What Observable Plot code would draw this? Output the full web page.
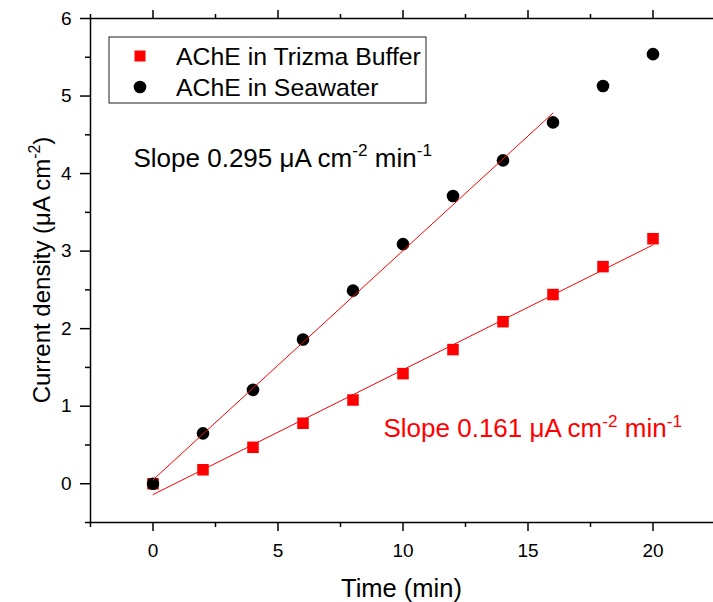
<!DOCTYPE html>
<html><head><meta charset="utf-8">
<style>body{margin:0;background:#fff;overflow:hidden}</style>
<script src="https://cdn.jsdelivr.net/npm/d3@7"></script>
<script src="https://cdn.jsdelivr.net/npm/@observablehq/plot@0.6"></script>
</head><body><div id="chart"></div>
<script>
// ---- data ----
const time = [0, 2, 4, 6, 8, 10, 12, 14, 16, 18, 20];
const seawater = [0.0, 0.65, 1.21, 1.86, 2.49, 3.09, 3.71, 4.17, 4.66, 5.13, 5.54];
const trizma = [0.0, 0.18, 0.47, 0.78, 1.08, 1.42, 1.73, 2.09, 2.44, 2.80, 3.16];
const seaFitTime = [0, 16];
const seaFitValue = [0.05, 4.78];
const trizmaFitTime = [0, 20];
const trizmaFitValue = [-0.14, 3.08];
const xMajor = [0, 5, 10, 15, 20];
const xMinor = [-2.5, 2.5, 7.5, 12.5, 17.5];
const yMajor = [0, 1, 2, 3, 4, 5, 6];
const yMinor = [-0.5, 0.5, 1.5, 2.5, 3.5, 4.5, 5.5];
const seriesNames = ["AChE in Trizma Buffer", "AChE in Seawater"];
const seaSlopeText = [["Slope 0.295 μA cm", false], ["-2", true], [" min", false], ["-1", true]];
const trizmaSlopeText = [["Slope 0.161 μA cm", false], ["-2", true], [" min", false], ["-1", true]];
const xTitle = "Time (min)";
const yTitle = [["Current density (μA cm", false], ["-2", true], [")", false]];

const FONT = "'Liberation Sans', Arial, Helvetica, sans-serif";
const xDomain = [-2.5, 22.42];
const yDomain = [-0.5, 6];

const trizmaRows = time.map((t, i) => ({t, v: trizma[i]}));
const seaRows = time.map((t, i) => ({t, v: seawater[i]}));
const seaFit = seaFitTime.map((t, i) => ({t, v: seaFitValue[i]}));
const trizmaFit = trizmaFitTime.map((t, i) => ({t, v: trizmaFitValue[i]}));

const blank = () => "";
const plain = (d) => String(d);
const plot = Plot.plot({
  width: 713, height: 602,
  marginLeft: 90, marginRight: 0, marginTop: 18, marginBottom: 80,
  style: {fontFamily: FONT, fontSize: "19px", color: "black", background: "white", overflow: "visible"},
  x: {domain: xDomain, axis: null},
  y: {domain: yDomain, axis: null},
  marks: [
    Plot.axisX(xMajor, {anchor: "bottom", tickSize: 9, tickPadding: 12, tickFormat: plain, strokeWidth: 1.5, fontSize: 19, label: null}),
    Plot.axisX(xMinor, {anchor: "bottom", tickSize: 5, tickFormat: blank, strokeWidth: 1.5, label: null}),
    Plot.axisX(xMajor, {anchor: "top", tickSize: 9, tickFormat: blank, strokeWidth: 1.5, label: null}),
    Plot.axisX(xMinor, {anchor: "top", tickSize: 5, tickFormat: blank, strokeWidth: 1.5, label: null}),
    Plot.axisY(yMajor, {anchor: "left", tickSize: 10, tickPadding: 9, tickFormat: plain, strokeWidth: 1.5, fontSize: 19, label: null}),
    Plot.axisY(yMinor, {anchor: "left", tickSize: 5, tickFormat: blank, strokeWidth: 1.5, label: null}),
    Plot.ruleX([xDomain[0]], {stroke: "black", strokeWidth: 1.5}),
    Plot.ruleY(yDomain, {stroke: "black", strokeWidth: 1.5}),
    Plot.dot(trizmaRows, {x: "t", y: "v", symbol: "square", fill: "#ff0000", r: 6.5}),
    Plot.dot(seaRows, {x: "t", y: "v", symbol: "circle", fill: "black", r: 6.3}),
    Plot.line(seaFit, {x: "t", y: "v", stroke: "#ff0000", strokeWidth: 1}),
    Plot.line(trizmaFit, {x: "t", y: "v", stroke: "#ff0000", strokeWidth: 1})
  ]
});
document.getElementById("chart").appendChild(plot);

const sx = plot.scale("x"), sy = plot.scale("y");
const svg = d3.select(plot);

function richText(parent, parts, fs, color, anchor) {
  const t = parent.append("text").attr("fill", color).attr("font-size", fs)
    .attr("font-family", FONT).attr("text-anchor", anchor);
  let shifted = false;
  parts.forEach(([s, sup]) => {
    const ts = t.append("tspan").text(s);
    if (sup) { ts.attr("font-size", fs * 0.66).attr("dy", -fs * 0.42); shifted = true; }
    else if (shifted) { ts.attr("dy", fs * 0.42); shifted = false; }
  });
  return t;
}

// slope annotations (anchored in data coordinates)
richText(svg, seaSlopeText, 26, "black", "start")
  .attr("x", sx.apply(-0.76)).attr("y", sy.apply(4.08));
richText(svg, trizmaSlopeText, 26, "#ff0000", "start")
  .attr("x", sx.apply(9.24)).attr("y", sy.apply(0.59));

// axis titles
svg.append("text").attr("x", (sx.range[0] + sx.range[1]) / 2).attr("y", 597)
  .attr("text-anchor", "middle").attr("font-size", 25.5).attr("font-family", FONT).text(xTitle);
const yt = svg.append("g").attr("transform", `translate(50,${(sy.range[0] + sy.range[1]) / 2}) rotate(-90)`);
richText(yt, yTitle, 24, "black", "middle");

// legend
const lg = svg.append("g").attr("transform", "translate(109,37)");
lg.append("rect").attr("width", 317).attr("height", 66).attr("fill", "white").attr("stroke", "#222").attr("stroke-width", 1);
lg.append("rect").attr("x", 31 - 5.5).attr("y", 19 - 5.5).attr("width", 11).attr("height", 11).attr("fill", "#ff0000");
lg.append("circle").attr("cx", 31).attr("cy", 50).attr("r", 6.3).attr("fill", "black");
seriesNames.forEach((name, i) => {
  lg.append("text").attr("x", 67).attr("y", 19 + i * 31).attr("dy", "0.36em")
    .attr("text-anchor", "start").attr("font-size", 24.8).attr("font-family", FONT).text(name);
});
</script>
</body></html>
